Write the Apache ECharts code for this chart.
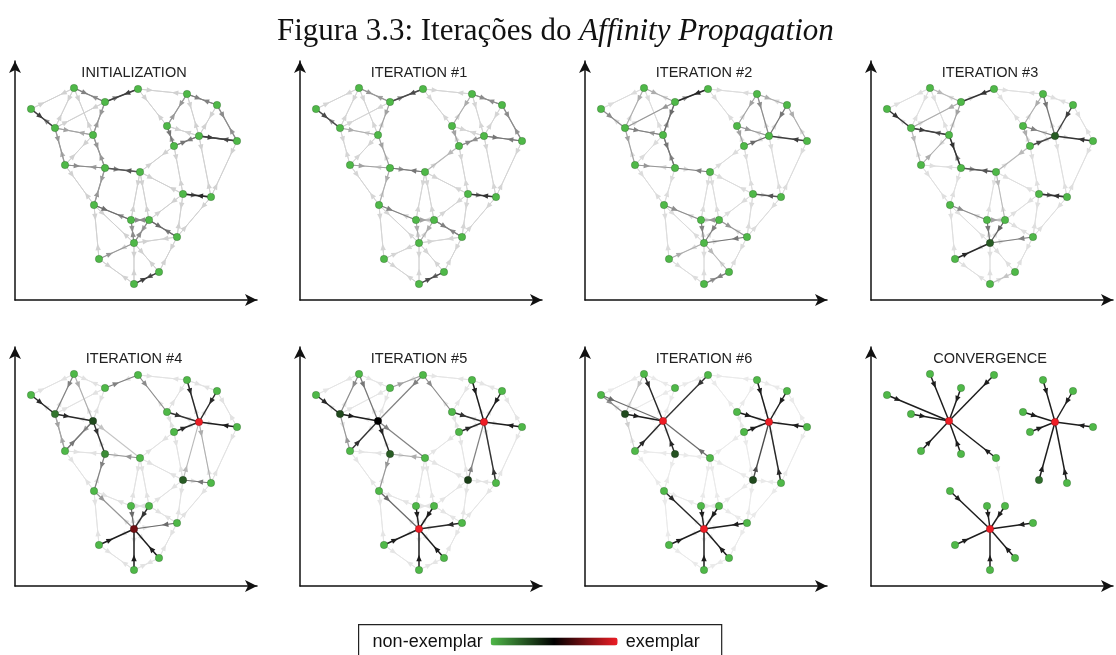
<!DOCTYPE html>
<html><head><meta charset="utf-8">
<script src="https://cdn.jsdelivr.net/npm/echarts@6/dist/echarts.min.js"></script>
<style>html,body{margin:0;padding:0;background:#fff}#c{width:1116px;height:655px}</style>
</head><body><div id="c"></div>
<script>
// ---------------- DATA ----------------
const panelTitles = ['INITIALIZATION','ITERATION #1','ITERATION #2','ITERATION #3','ITERATION #4','ITERATION #5','ITERATION #6','CONVERGENCE'];

// node positions (same in every panel), nodes n1..n25
const nodeX = [59,123,90,16,172,202,152,40,78,184,159,222,50,90,125,168,196,79,116,134,162,119,84,144,119];
const nodeY = [212,211,198,191,206,195,174,172,165,164,154,159,135,132,128,106,103,95,80,80,63,57,41,28,16];

// neighbourhood graph (undirected pairs, 1-based node ids)
const baseEdges = [[1,3],[1,4],[1,8],[1,9],[2,3],[2,5],[2,7],[3,8],[3,9],[4,8],[8,9],[8,13],[9,13],[9,14],[13,14],[13,18],[14,15],[14,18],
  [5,6],[5,7],[5,10],[6,10],[6,12],[7,10],[7,11],[10,11],[10,12],[10,17],[11,15],[11,16],[12,17],[15,16],[15,19],[15,20],[16,17],[16,20],[16,21],[17,21],
  [18,19],[18,22],[18,23],[19,20],[19,22],[20,21],[20,22],[21,22],[21,24],[22,23],[22,24],[22,25],[23,25],[24,25]];

// background message strength per panel
const baseLevel = [0.14, 0.12, 0.09, 0.075, 0.065, 0.05, 0.025, 0];

// directed messages [from, to, strength 0..1]
const msgInit = [[2,3,.8],[3,2,.5],[1,3,.5],[3,1,.4],[4,8,.8],[8,4,.45],[8,9,.35],[9,8,.3],[3,9,.4],[9,3,.35],[8,13,.4],[13,8,.3],[13,14,.45],[14,13,.35],[14,15,.5],[15,14,.7],[9,14,.4],[14,9,.4],[14,18,.35],[18,14,.4],
  [5,6,.5],[6,5,.5],[5,7,.4],[7,5,.35],[6,12,.45],[12,6,.4],[7,11,.55],[11,7,.4],[11,10,.55],[10,11,.5],[10,12,.8],[12,10,.7],[16,17,.6],[17,16,.9],
  [18,19,.6],[19,18,.4],[19,20,.45],[20,19,.45],[20,21,.6],[21,20,.5],[19,22,.4],[22,19,.45],[20,22,.35],[22,20,.45],[24,25,.7],[25,24,.8],[23,22,.4]];
const msgIter1 = [[2,3,.75],[3,2,.45],[1,3,.4],[3,1,.35],[4,8,.75],[8,4,.4],[8,9,.3],[3,9,.35],[13,14,.35],[14,15,.4],[15,14,.55],[9,14,.35],[14,18,.3],
  [5,6,.45],[6,5,.45],[5,7,.3],[6,12,.45],[12,6,.4],[7,11,.35],[11,10,.45],[10,11,.4],[10,12,.55],[12,10,.5],[16,17,.5],[17,16,.85],
  [18,19,.5],[19,20,.35],[20,21,.5],[21,20,.45],[19,22,.3],[20,22,.3],[24,25,.6],[25,24,.75],[11,15,.25]];
const msgIter2 = [[2,3,.9],[3,2,.4],[3,9,.6],[9,3,.4],[9,14,.55],[14,9,.45],[8,9,.5],[9,8,.35],[8,13,.35],[13,14,.4],[4,8,.45],[1,3,.3],[1,8,.3],[3,8,.4],[15,14,.5],
  [6,10,.55],[12,10,.8],[11,10,.6],[7,10,.4],[5,10,.45],[5,7,.35],[7,11,.35],[5,6,.3],[6,12,.3],[17,16,.7],
  [19,22,.5],[20,22,.5],[21,22,.55],[20,19,.4],[18,19,.45],[20,21,.4],[24,25,.5],[25,24,.4],[23,22,.3],[22,24,.25]];
const msgIter3 = [[4,8,.85],[8,9,.8],[9,8,.6],[2,3,.85],[3,9,.35],[9,14,.85],[14,9,.5],[15,14,.7],[14,15,.4],[1,3,.25],[8,13,.25],[13,9,.3],[3,8,.3],
  [12,10,.85],[11,10,.75],[6,10,.8],[5,10,.55],[7,10,.5],[7,11,.3],[5,7,.3],[16,17,.6],[17,16,.85],
  [23,22,.9],[19,22,.55],[20,22,.65],[21,22,.5],[18,19,.45],[19,20,.35],[15,20,.25],[24,25,.2],[11,15,.25]];
const msgIter4 = [[4,8,.9],[8,9,.9],[9,14,.85],[13,9,.55],[9,13,.35],[1,8,.5],[1,9,.3],[3,2,.5],[8,13,.35],[13,8,.3],[2,7,.45],
  [7,10,.85],[5,10,.9],[6,10,.9],[12,10,.95],[11,10,.9],[17,16,.55],[10,17,.3],[15,14,.4],[14,18,.5],[9,15,.2],[16,10,.25],
  [18,22,.4],[19,22,.6],[20,22,.85],[21,22,.6],[23,22,.95],[24,22,.95],[25,22,.95]];
const msgIter5 = [[4,8,.9],[8,9,.95],[9,14,.9],[13,9,.85],[1,9,.55],[1,8,.45],[2,9,.5],[3,2,.35],[13,8,.4],[9,15,.5],[15,14,.3],
  [7,10,.85],[5,10,.95],[6,10,.95],[12,10,.95],[11,10,.9],[17,10,.85],[16,10,.5],[2,7,.45],
  [18,22,.6],[14,18,.4],[19,22,.95],[20,22,.95],[21,22,.9],[23,22,.95],[24,22,.95],[25,22,.95]];
const msgIter6 = [[1,9,.9],[2,9,.85],[4,9,.6],[4,8,.45],[8,9,.95],[13,9,.9],[14,9,.9],[15,9,.6],[1,8,.2],[8,13,.15],
  [5,10,.95],[6,10,.95],[7,10,.95],[11,10,.95],[12,10,.95],[17,10,.9],[16,10,.75],
  [18,22,.9],[19,22,.95],[20,22,.95],[21,22,.95],[23,22,.95],[24,22,.95],[25,22,.95]];
const msgConv = [[1,9,.95],[2,9,.95],[3,9,.95],[4,9,.95],[8,9,.95],[13,9,.95],[14,9,.95],[15,9,.95],
  [5,10,.95],[6,10,.95],[7,10,.95],[11,10,.95],[12,10,.95],[16,10,.95],[17,10,.95],
  [18,22,.95],[19,22,.95],[20,22,.95],[21,22,.95],[23,22,.95],[24,22,.95],[25,22,.95],[15,20,.04]];
const panelMessages = [msgInit,msgIter1,msgIter2,msgIter3,msgIter4,msgIter5,msgIter6,msgConv];

// exemplar score per node (0 = non-exemplar, 1 = exemplar)
const scoreInit  = [0,0,0,0,0,0,0,0,0,0,0,0,0,0,0,0,0,0,0,0,0,0,0,0,0];
const scoreIter1 = [0,0,0,0,0,0,0,0,0,0,0,0,0,0,0,0,0,0,0,0,0,0,0,0,0];
const scoreIter2 = [0,0,0,0,0,0,0,0,0,0,0,0,0,0,0,0,0,0,0,0,0,0,0,0,0];
const scoreIter3 = [0,0,0,0,0,0,0,0,0,0.25,0,0,0,0,0,0,0,0,0,0,0,0.25,0,0,0];
const scoreIter4 = [0,0,0,0,0,0,0,0.18,0.3,1,0,0,0,0.12,0,0.25,0,0,0,0,0,0.74,0,0,0];
const scoreIter5 = [0,0,0,0,0,0,0,0.3,0.5,1,0,0,0,0.25,0,0.33,0,0,0,0,0,1,0,0,0];
const scoreIter6 = [0,0,0,0,0,0,0,0.3,1,1,0,0,0,0.28,0,0.3,0,0,0,0,0,1,0,0,0];
const scoreConv  = [0,0,0,0,0,0,0,0,1,1,0,0,0,0,0,0.2,0,0,0,0,0,1,0,0,0];
const panelScores = [scoreInit,scoreIter1,scoreIter2,scoreIter3,scoreIter4,scoreIter5,scoreIter6,scoreConv];

const captionMain = 'Figura 3.3: Iterações do ';
const captionItalic = 'Affinity Propagation';
const legendLow = 'non-exemplar', legendHigh = 'exemplar';

// ---------------- LAYOUT ----------------
const colX = [15, 300, 585, 871];
const rowY = [300, 586];
const AX_W = 242, AX_H = 239;

function buildEdges(p){
  const msgs = panelMessages[p];
  const has = new Set(msgs.map(m => m[0] + '-' + m[1]));
  const out = [];
  const bl = baseLevel[p];
  if (bl > 0) baseEdges.forEach(([a,b]) => {
    [[a,b],[b,a]].forEach(([s,t]) => {
      if (!has.has(s + '-' + t)) out.push([nodeX[s-1],nodeY[s-1],nodeX[t-1],nodeY[t-1],bl]);
    });
  });
  msgs.forEach(([s,t,v]) => out.push([nodeX[s-1],nodeY[s-1],nodeX[t-1],nodeY[t-1],v]));
  out.sort((a,b) => a[4]-b[4]);
  return out;
}

function renderEdge(params, api){
  const p1 = api.coord([api.value(0), api.value(1)]);
  const p2 = api.coord([api.value(2), api.value(3)]);
  const s = api.value(4);
  const g = Math.round(240 - s*222);
  const col = 'rgb(' + g + ',' + g + ',' + g + ')';
  const dx = p2[0]-p1[0], dy = p2[1]-p1[1];
  const L = Math.hypot(dx, dy) || 1;
  const ux = dx/L, uy = dy/L;
  const d = Math.min(12, 0.4*L);
  const cx = p1[0] + ux*d, cy = p1[1] + uy*d;
  const al = 6.5, aw = 2.7;
  const tip = [cx + ux*al/2, cy + uy*al/2];
  const b = [cx - ux*al/2, cy - uy*al/2];
  const l = [b[0] - uy*aw, b[1] + ux*aw];
  const r = [b[0] + uy*aw, b[1] - ux*aw];
  return {type:'group', children:[
    {type:'line', shape:{x1:p1[0], y1:p1[1], x2:p2[0], y2:p2[1]}, style:{stroke:col, lineWidth: 0.9 + 0.6*s}},
    {type:'polygon', shape:{points:[tip, l, r]}, style:{fill:col}}
  ]};
}

const grids = [], xAxes = [], yAxes = [], series = [], graphics = [], scatterIdx = [];
const axisCommon = {
  type:'value', min:0,
  axisLine:{show:true, onZero:false, symbol:['none','arrow'], symbolSize:[9,12], lineStyle:{color:'#111', width:1.5}},
  axisTick:{show:false}, axisLabel:{show:false}, splitLine:{show:false}
};
for (let p = 0; p < 8; p++){
  const ox = colX[p % 4], oy = rowY[Math.floor(p / 4)];
  grids.push({left: ox, top: oy - AX_H, width: AX_W, height: AX_H});
  xAxes.push(Object.assign({}, axisCommon, {gridIndex: p, max: AX_W}));
  yAxes.push(Object.assign({}, axisCommon, {gridIndex: p, max: AX_H}));
  series.push({type:'custom', xAxisIndex:p, yAxisIndex:p, renderItem: renderEdge, data: buildEdges(p), z:2, silent:true,
    encode:{x:[0,2], y:[1,3]}});
  scatterIdx.push(series.length);
  series.push({type:'scatter', xAxisIndex:p, yAxisIndex:p, symbolSize:7.5, z:3, silent:true,
    itemStyle:{borderColor:'rgba(0,0,0,0.25)', borderWidth:0.7, opacity:1},
    data: nodeX.map((x,i) => [x, nodeY[i], panelScores[p][i]])});
  graphics.push({type:'text', x: ox + 119, y: oy - 227, style:{text: panelTitles[p], textAlign:'center', textVerticalAlign:'middle',
    fontFamily:'Liberation Sans, Arial, sans-serif', fontSize:14.5, fill:'#222'}});
}

const chart = echarts.init(document.getElementById('c'), null, {renderer:'canvas'});
chart.setOption({
  animation:false,
  backgroundColor:'#fff',
  title:[{text:'{a|' + captionMain + '}{b|' + captionItalic + '}', left:272, top:11,
    textStyle:{fontWeight:'normal', rich:{
      a:{fontFamily:'Liberation Serif, Times New Roman, serif', fontSize:31, fontWeight:'normal', color:'#111'},
      b:{fontFamily:'Liberation Serif, Times New Roman, serif', fontSize:31, fontWeight:'normal', fontStyle:'italic', color:'#111'}}}}],
  grid: grids, xAxis: xAxes, yAxis: yAxes, series: series, graphic: graphics,
  visualMap:{type:'continuous', min:0, max:1, dimension:2, seriesIndex: scatterIdx, orient:'horizontal',
    left:358, top:624, itemWidth:8, itemHeight:127, textGap:8, calculable:false, hoverLink:false,
    text:[legendHigh, legendLow], textStyle:{fontFamily:'Liberation Sans, Arial, sans-serif', fontSize:18, color:'#111'},
    inRange:{color:['#4fb848','#000000','#ee1d25']},
    borderColor:'#222', borderWidth:1.2, padding:[8,22,20,14], backgroundColor:'#fff'}
});
</script></body></html>
